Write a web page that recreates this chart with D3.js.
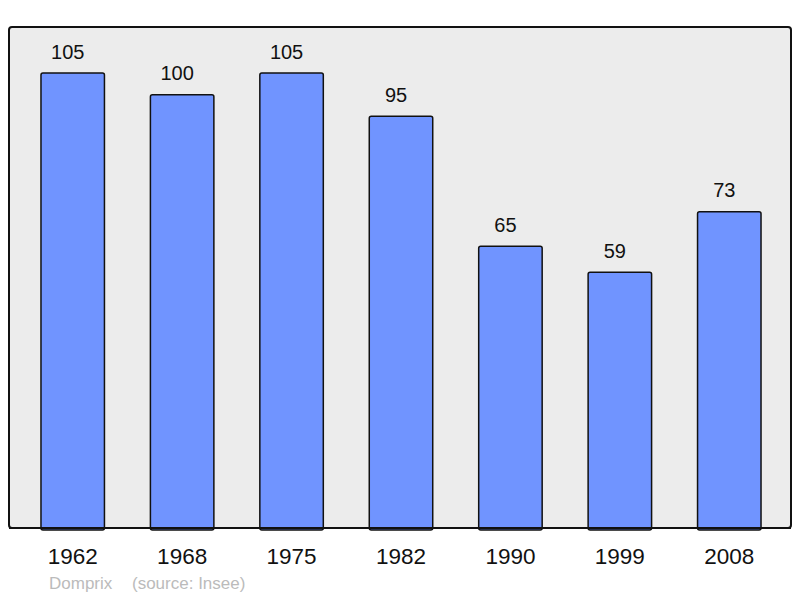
<!DOCTYPE html>
<html>
<head>
<meta charset="utf-8">
<script src="https://cdn.jsdelivr.net/npm/d3@7"></script>
<style>
  html, body { margin: 0; padding: 0; background: #fff; }
  svg { display: block; font-family: 'Liberation Sans', Arial, sans-serif; }
</style>
</head>
<body>
<svg id="chart" width="800" height="598"></svg>
<script>
const years = ['1962', '1968', '1975', '1982', '1990', '1999', '2008']
const population = [105, 100, 105, 95, 65, 59, 73]
const commune = 'Domprix'
const source = '(source: Insee)'

const svg = d3.select('#chart')
const panel = {left: 9, top: 27, right: 791, bottom: 528}

svg.append('rect')
  .attr('x', panel.left)
  .attr('y', panel.top)
  .attr('width', panel.right - panel.left)
  .attr('height', panel.bottom - panel.top)
  .attr('rx', 3)
  .attr('fill', '#ececec')
  .attr('stroke', '#111')
  .attr('stroke-width', 2)

const x = d3.scaleBand()
  .domain(years)
  .range([18, 784])
  .paddingInner(0.42)
  .paddingOuter(0.21)

const y = d3.scaleLinear()
  .domain([0, 105])
  .range([panel.bottom, 73])

const data = years.map((year, i) => ({year, value: population[i]}))

const bars = svg.append('g').attr('class', 'bars')
bars.selectAll('rect')
  .data(data)
  .enter()
  .append('rect')
  .attr('x', (d) => x(d.year))
  .attr('y', (d) => y(d.value))
  .attr('width', x.bandwidth())
  .attr('height', (d) => panel.bottom - y(d.value) + 2)
  .attr('rx', 2)
  .attr('fill', '#7094ff')
  .attr('stroke', '#111')
  .attr('stroke-width', 1.5)

// redraw bottom frame line on top of bars
svg.append('line')
  .attr('x1', panel.left)
  .attr('x2', panel.right)
  .attr('y1', panel.bottom)
  .attr('y2', panel.bottom)
  .attr('stroke', '#111')
  .attr('stroke-width', 2)

// value labels sit a little left of the bar centre in the original
svg.append('g')
  .attr('class', 'values')
  .selectAll('text')
  .data(data)
  .enter()
  .append('text')
  .attr('x', (d) => x(d.year) + x.bandwidth() / 2 - 5)
  .attr('y', (d) => y(d.value) - 14.5)
  .attr('text-anchor', 'middle')
  .attr('font-size', 20)
  .attr('fill', '#111')
  .text((d) => d.value)

const xAxis = svg.append('g')
  .attr('class', 'axis axis--x')
  .attr('transform', `translate(0, ${panel.bottom})`)
  .call(d3.axisBottom(x).tickSize(0).tickPadding(0))
xAxis.select('.domain').remove()
xAxis.selectAll('text')
  .attr('y', 36)
  .attr('dy', 0)
  .attr('font-size', 22.5)
  .attr('font-family', "'Liberation Sans', Arial, sans-serif")
  .attr('fill', '#111')

svg.append('text')
  .attr('x', 49)
  .attr('y', 589)
  .attr('font-size', 17)
  .attr('fill', '#bbbbbb')
  .text(commune)

svg.append('text')
  .attr('x', 132)
  .attr('y', 589)
  .attr('font-size', 17)
  .attr('fill', '#bbbbbb')
  .text(source)
</script>
</body>
</html>
